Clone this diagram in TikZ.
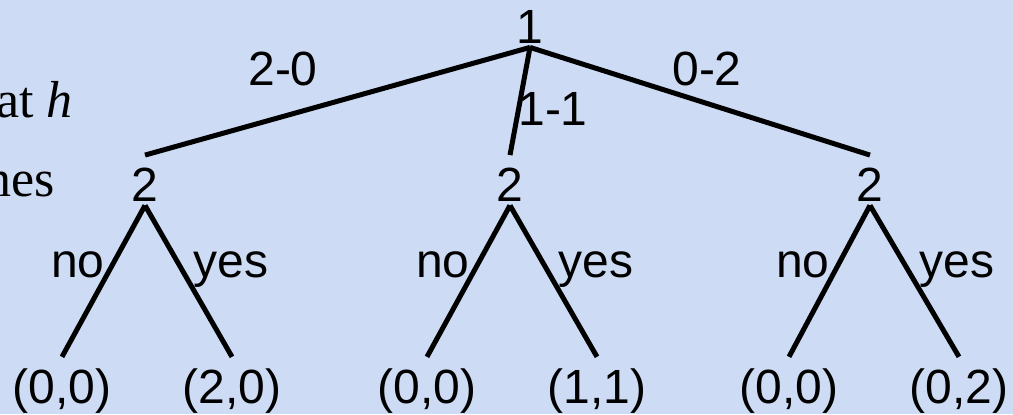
\documentclass[tikz,border=0pt]{standalone}
\usepackage{fontspec}
\setmainfont{Liberation Serif}
\setsansfont{Liberation Sans}
\definecolor{paper}{HTML}{CDDCF4}

\begin{document}
\begin{tikzpicture}[x=0.5pt,y=-0.5pt,
  lbl/.style={font=\sffamily\fontsize{24}{28}\selectfont,inner sep=2pt,anchor=base},
  leaf/.style={lbl,inner ysep=5.5pt},
  branch/.style={line width=2.5pt}]
  \fill[paper] (0,0) rectangle (1013,414);
  \clip (0,0) rectangle (1013,414);
  % slide text cut off at the left
  \node[font=\fontsize{26}{30}\selectfont,anchor=base east,inner sep=0] (txta) at (73,117) {at \textit{h}};
  \node[font=\fontsize{26}{30}\selectfont,anchor=base east,inner sep=0] (txtb) at (55,196) {nes};
  % players
  \node[lbl] (root) at (530,43) {1};
  \node[lbl] (left) at (145,201) {2};
  \node[lbl] (mid) at (510,201) {2};
  \node[lbl] (right) at (870,201) {2};
  \coordinate (lefttop) at ([yshift=4pt]left.north);
  \coordinate (midtop) at ([yshift=4pt]mid.north);
  \coordinate (righttop) at ([yshift=4pt]right.north);
  % payoffs
  \node[leaf] (ln) at (62,403) {(0,0)};
  \node[leaf] (ly) at (232,403) {(2,0)};
  \node[leaf] (mn) at (427,403) {(0,0)};
  \node[leaf] (my) at (597,403) {(1,1)};
  \node[leaf] (rn) at (789,403) {(0,0)};
  \node[leaf] (ry) at (959,403) {(0,2)};
  \draw[branch] (root.south) -- (lefttop);
  \draw[branch] (root.south) -- (midtop);
  \draw[branch] (root.south) -- (righttop);
  \draw[branch] (left.south) -- (ln.north);
  \draw[branch] (left.south) -- (ly.north);
  \draw[branch] (mid.south) -- (mn.north);
  \draw[branch] (mid.south) -- (my.north);
  \draw[branch] (right.south) -- (rn.north);
  \draw[branch] (right.south) -- (ry.north);
  % actions
  \node[lbl] (a20) at (283,85) {2-0};
  \node[lbl] (a11) at (553,125) {1-1};
  \node[lbl] (a02) at (707,85) {0-2};
  \node[lbl] (lno) at (78,277) {no};
  \node[lbl] (lyes) at (231,277) {yes};
  \node[lbl] (mno) at (443,277) {no};
  \node[lbl] (myes) at (596,277) {yes};
  \node[lbl] (rno) at (803,277) {no};
  \node[lbl] (ryes) at (957,277) {yes};
\end{tikzpicture}
\end{document}
